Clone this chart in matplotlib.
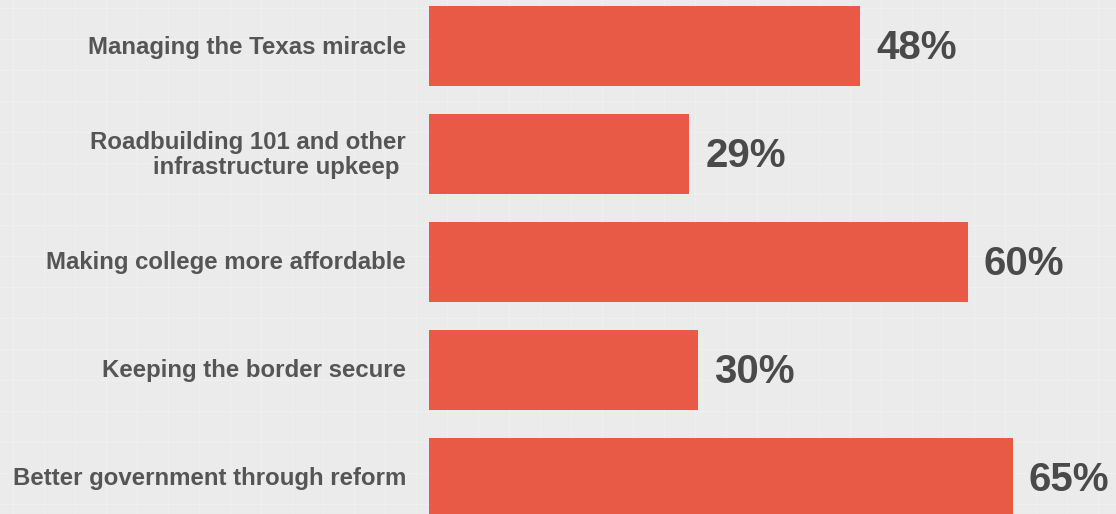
import matplotlib
matplotlib.use("Agg")
import matplotlib.pyplot as plt
import numpy as np

categories = [
    "Managing the Texas miracle",
    "Roadbuilding 101 and other\ninfrastructure upkeep ",
    "Making college more affordable",
    "Keeping the border secure",
    "Better government through reform",
]
values = [48, 29, 60, 30, 65]
value_labels = ["48%", "29%", "60%", "30%", "65%"]

bg = "#EAEBEA"
bar_color = "#E85A46"

fig = plt.figure(figsize=(11.16, 5.14), dpi=100, facecolor=bg)
ax = fig.add_axes([0, 0, 1, 1])
ax.set_facecolor(bg)

# faint background grid
for gx in np.arange(13, 1116, 31):
    fig.add_artist(plt.Line2D([gx / 1116, gx / 1116], [0, 1], transform=fig.transFigure,
                              color="#EEEFEE", lw=1.0, zorder=0))
for gy in np.arange(10, 514, 31):
    fig.add_artist(plt.Line2D([0, 1], [gy / 514, gy / 514], transform=fig.transFigure,
                              color="#EEEFEE", lw=1.0, zorder=0))

px_per = 8.98
ax.set_xlim(-429 / px_per, (1116 - 429) / px_per)
step = 107.9
ax.set_ylim((514 - 46) / step, -46 / step)

y = np.arange(len(categories))
ax.barh(y, values, height=80 / step, color=bar_color, zorder=2)

for yi, v, lab, cat in zip(y, values, value_labels, categories):
    ax.text(v + 16 / px_per, yi + 0.02, lab, ha="left", va="center",
            fontsize=29, color="#4A4A4A", fontfamily="Liberation Sans",
            fontweight="bold", zorder=3)
    ax.text(-23 / px_per, yi + 0.01, cat, ha="right", va="center", fontsize=17.3,
            color="#555555", fontfamily="Liberation Sans", fontweight="bold",
            linespacing=1.12, zorder=3)

ax.axis("off")
fig.savefig("out.png", dpi=100, facecolor=bg)
